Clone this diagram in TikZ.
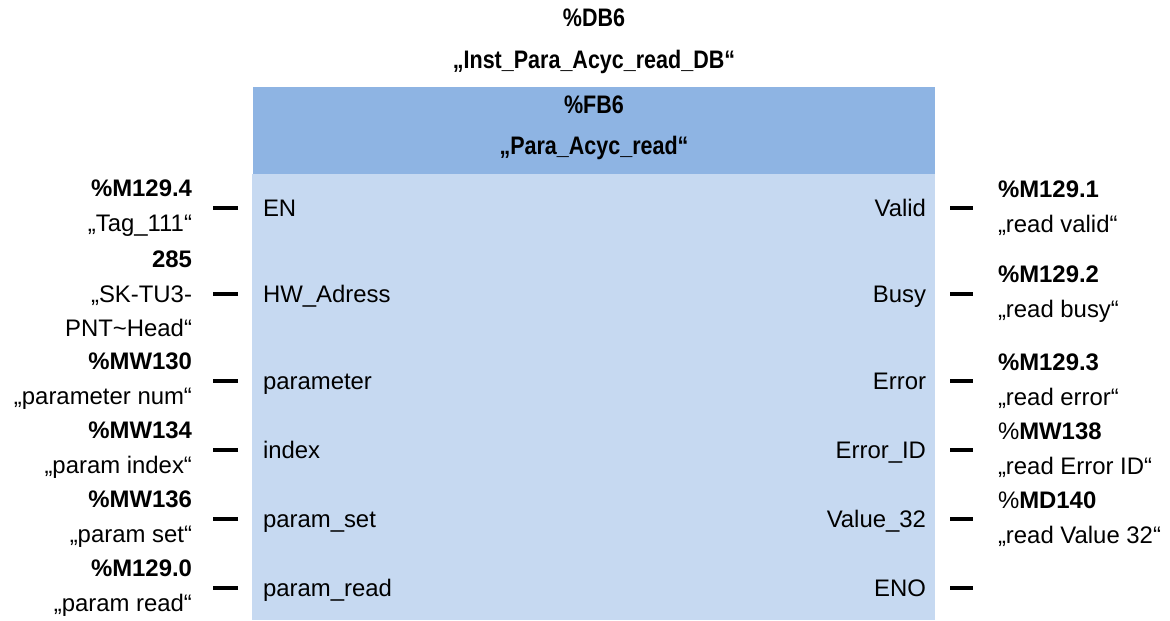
\documentclass[tikz,border=0pt]{standalone}
\usepackage{fontspec}
\setmainfont{Liberation Sans}
\newfontfamily\narrowsf[FakeStretch=0.85]{Liberation Sans}
\usepackage{tikz}
\definecolor{fbHead}{RGB}{142,180,227}
\definecolor{fbBody}{RGB}{198,217,241}

\begin{document}
\begin{tikzpicture}[x=0.025cm, y=-0.025cm]%
  \tikzset{pin/.style={draw,line width=2.4pt,black}}
  \tikzstyle{every node}=[inner sep=0pt, outer sep=0pt, font=\fontsize{17}{24.5}\selectfont]
  \tikzstyle{title}=[font=\fontsize{18}{20}\selectfont\narrowsf\bfseries]
  \tikzstyle{inpin}=[anchor=base west]
  \tikzstyle{outpin}=[anchor=base east]
  \tikzstyle{invar}=[anchor=east, align=right]
  \tikzstyle{outvar}=[anchor=west, align=left]

  \useasboundingbox (0,0) rectangle (1170,620);
  \fill[fbHead] (253,87) rectangle (935,174);
  \fill[fbBody] (252,174) rectangle (935,620);

  \node[title] (DBnum) at (594,18) {\%DB6};
  \node[title] (DBname) at (594,62) {„Inst\_Para\_Acyc\_read\_DB“};
  \node[title] (FBnum) at (594,105) {\%FB6};
  \node[title] (FBname) at (594,148) {„Para\_Acyc\_read“};

  % inputs
  \node[inpin] (EN) at (263,216) {EN};
  \node[inpin] (HW) at (263,302) {HW\_Adress};
  \node[inpin] (par) at (263,389) {parameter};
  \node[inpin] (idx) at (263,458) {index};
  \node[inpin] (pset) at (263,527) {param\_set};
  \node[inpin] (pread) at (263,596) {param\_read};

  % outputs
  \node[outpin] (Valid) at (926,216) {Valid};
  \node[outpin] (Busy) at (926,302) {Busy};
  \node[outpin] (Err) at (926,389) {Error};
  \node[outpin] (ErrID) at (926,458) {Error\_ID};
  \node[outpin] (Val) at (926,527) {Value\_32};
  \node[outpin] (ENO) at (926,596) {ENO};

  \foreach \p in {EN,HW,par,idx,pset,pread}
    \draw[pin] (\p.base west) ++(-25,-8) -- ++(-25,0);
  \foreach \p in {Valid,Busy,Err,ErrID,Val,ENO}
    \draw[pin] (\p.base east) ++(24,-8) -- ++(23,0);

  \node[invar] (ENvar) at (192,208) {\textbf{\%M129.4}\\„Tag\_111“};
  \node[invar] (HWvar) at (192,294) {\textbf{285}\\„SK-TU3-\\PNT\textasciitilde Head“};
  \node[invar] (parvar) at (192,381) {\textbf{\%MW130}\\„parameter num“};
  \node[invar] (idxvar) at (192,450) {\textbf{\%MW134}\\„param index“};
  \node[invar] (psetvar) at (192,519) {\textbf{\%MW136}\\„param set“};
  \node[invar] (preadvar) at (192,588) {\textbf{\%M129.0}\\„param read“};

  \node[outvar] (Validvar) at (998,208) {\textbf{\%M129.1}\\„read valid“};
  \node[outvar] (Busyvar) at (998,294) {\textbf{\%M129.2}\\„read busy“};
  \node[outvar] (Errvar) at (998,381) {\textbf{\%M129.3}\\„read error“};
  \node[outvar] (ErrIDvar) at (998,450) {\%\textbf{MW138}\\„read Error ID“};
  \node[outvar] (Valvar) at (998,519) {\%\textbf{MD140}\\„read Value 32“};
\end{tikzpicture}
\end{document}
